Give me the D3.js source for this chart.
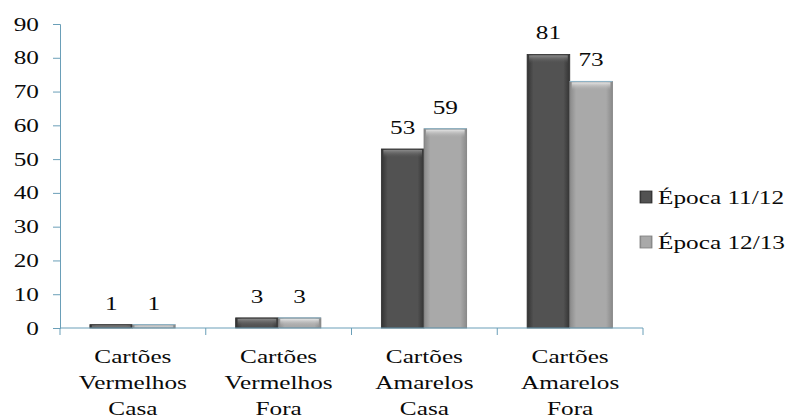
<!DOCTYPE html>
<html>
<head>
<meta charset="utf-8">
<script src="https://cdn.jsdelivr.net/npm/d3@7"></script>
<style>
  body { margin: 0; background: #fff; }
</style>
</head>
<body>
<div id="chart"></div>
<script>
const categories = [
  ["Cartões", "Vermelhos", "Casa"],
  ["Cartões", "Vermelhos", "Fora"],
  ["Cartões", "Amarelos", "Casa"],
  ["Cartões", "Amarelos", "Fora"]
];
const seriesNames = ["Época 11/12", "Época 12/13"];
const epoca1112 = [1, 3, 53, 81];
const epoca1213 = [1, 3, 59, 73];
const yTicks = [0, 10, 20, 30, 40, 50, 60, 70, 80, 90];

const W = 787, H = 419;
const plot = {left: 60, right: 643, top: 24, bottom: 328};
const stretch = 1.33;
const axisColor = "#6a9fb8";
const serif = "'Liberation Serif', 'Times New Roman', serif";

const svg = d3.select("#chart").append("svg")
  .attr("width", W).attr("height", H)
  .style("font-family", serif);

function label(sel) {
  return sel.style("font-family", serif).style("font-size", "19px").attr("fill", "#0a0a0a");
}

const defs = svg.append("defs");
const fills = [
  {id: "g0", edge: "#333333", mid: "#525252", top: "#8a8a8a"},
  {id: "g1", edge: "#8a8a8a", mid: "#a9a9a9", top: "#e4e4e4"}
];
fills.forEach(f => {
  const g = defs.append("linearGradient").attr("id", f.id)
    .attr("x1", 0).attr("x2", 1).attr("y1", 0).attr("y2", 0);
  g.append("stop").attr("offset", "0%").attr("stop-color", f.edge);
  g.append("stop").attr("offset", "15%").attr("stop-color", f.mid);
  g.append("stop").attr("offset", "85%").attr("stop-color", f.mid);
  g.append("stop").attr("offset", "100%").attr("stop-color", f.edge);
  const t = defs.append("linearGradient").attr("id", f.id + "t")
    .attr("x1", 0).attr("x2", 0).attr("y1", 0).attr("y2", 1);
  t.append("stop").attr("offset", "0%").attr("stop-color", f.top);
  t.append("stop").attr("offset", "100%").attr("stop-color", f.mid).attr("stop-opacity", 0);
});

const keys = categories.map((c, i) => i);
const x0 = d3.scaleBand().domain(keys).range([plot.left, plot.right]).padding(0);
const bw = x0.bandwidth();
const x1 = d3.scaleBand().domain([0, 1]).range([bw * 0.205, bw * 0.79]).padding(0);
const y = d3.scaleLinear().domain([0, 90]).range([plot.bottom, plot.top]);

const data = keys.map(i => [epoca1112[i], epoca1213[i]]);

// y axis
const yAxis = svg.append("g")
  .attr("transform", `translate(${plot.left},0)`)
  .call(d3.axisLeft(y).tickValues(yTicks).tickSize(7).tickFormat(d3.format("d")));
yAxis.attr("font-family", null).attr("font-size", null);
yAxis.selectAll("path, line").attr("stroke", axisColor);
yAxis.selectAll("text")
  .attr("x", -21 / stretch)
  .attr("transform", `scale(${stretch},1)`)
  .call(label);

// bars
const groups = svg.append("g").selectAll("g")
  .data(data).join("g")
  .attr("transform", (d, i) => `translate(${x0(i)},0)`);

groups.each(function(vals) {
  const g = d3.select(this);
  vals.forEach((v, s) => {
    const bx = x1(s), by = y(v), bh = y(0) - y(v), w = x1.bandwidth();
    g.append("rect")
      .attr("x", bx).attr("y", by).attr("width", w).attr("height", bh)
      .attr("fill", `url(#g${s})`)
      .attr("stroke", s === 0 ? "#2e2e2e" : "#7d7d7d").attr("stroke-width", 0.8);
    g.append("rect")
      .attr("x", bx + 2).attr("y", by + 1).attr("width", w - 4).attr("height", Math.min(8, bh))
      .attr("fill", `url(#g${s}t)`);
    if (s === 1) {
      g.append("line")
        .attr("x1", bx).attr("x2", bx + w).attr("y1", by).attr("y2", by)
        .attr("stroke", "#8fb6ca").attr("stroke-width", 1);
    }
    g.append("text")
      .attr("transform", `translate(${bx + w / 2},${by - 15}) scale(${stretch},1)`)
      .attr("text-anchor", "middle")
      .call(label)
      .text(v);
  });
});

// x axis
svg.append("line")
  .attr("x1", plot.left).attr("x2", plot.right).attr("y1", y(0)).attr("y2", y(0))
  .attr("stroke", axisColor);
const bounds = keys.map(i => x0(i)).concat([plot.right]);
svg.append("g").selectAll("line").data(bounds).join("line")
  .attr("x1", d => d).attr("x2", d => d)
  .attr("y1", y(0)).attr("y2", y(0) + 7)
  .attr("stroke", axisColor);

// category labels
svg.append("g").selectAll("g").data(categories).join("g")
  .each(function(lines, i) {
    const cx = x0(i) + bw / 2;
    lines.forEach((ln, k) => {
      d3.select(this).append("text")
        .attr("transform", `translate(${cx},${363 + k * 26}) scale(${stretch},1)`)
        .attr("text-anchor", "middle")
        .call(label)
        .text(ln);
    });
  });

// legend
const legend = svg.append("g").selectAll("g").data(seriesNames).join("g")
  .attr("transform", (d, i) => `translate(640,${191 + i * 45})`);
legend.append("rect")
  .attr("width", 12).attr("height", 12)
  .attr("fill", (d, i) => `url(#g${i})`)
  .attr("stroke", (d, i) => i === 0 ? "#2e2e2e" : "#7d7d7d").attr("stroke-width", 0.8);
legend.append("text")
  .attr("transform", `translate(18,13) scale(${stretch},1)`)
  .call(label)
  .text(d => d);
</script>
</body>
</html>
